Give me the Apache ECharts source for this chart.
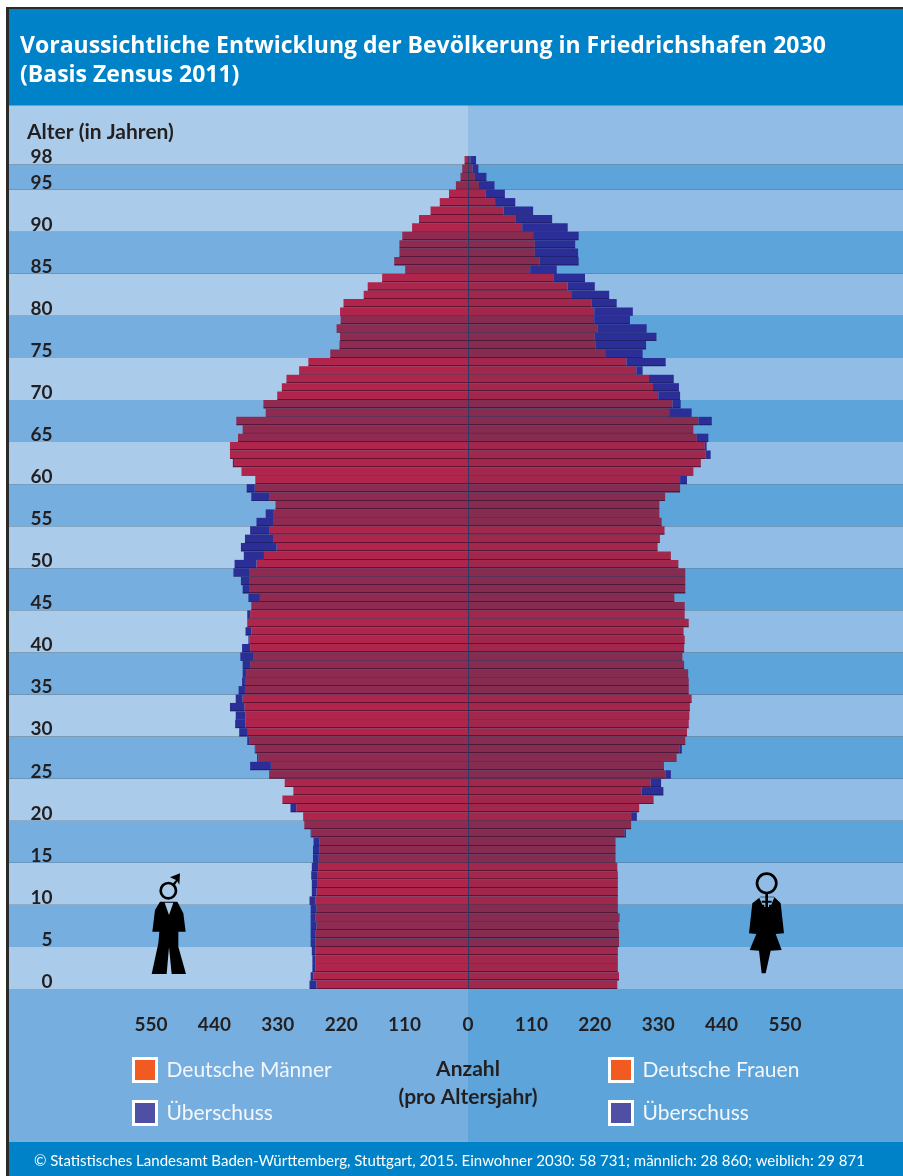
<!DOCTYPE html>
<html><head><meta charset="utf-8">
<style>html,body{margin:0;padding:0;background:#fff}#c{width:903px;height:1176px}</style>
<script src="https://cdn.jsdelivr.net/npm/echarts@6/dist/echarts.min.js"></script>
</head><body><div id="c"></div>
<script>
// ages 0..98 (index = age)
const ages = [];
for (let a = 0; a <= 98; a++) ages.push(String(a));
const ageLabels = ['0','5','10','15','20','25','30','35','40','45','50','55','60','65','70','75','80','85','90','95','98'];
const countTicks = [110,220,330,440,550];

const menGerman = [263,268,265,265,265,265,265,263,265,263,
 265,263,262,262,260,259,258,258,272,284,
 286,298,322,303,318,345,342,364,369,379,
 382,386,386,388,391,387,387,385,378,373,
 378,379,376,382,378,376,361,380,380,380,
 367,354,332,337,344,337,337,334,344,370,
 369,393,406,413,413,399,391,402,351,355,
 331,323,315,293,277,239,223,222,228,221,
 222,216,181,174,149,109,128,119,119,114,
 97,85,65,49,33,21,13,10,6];
const menSurplus = [12,5,5,5,6,8,8,10,8,10,
 10,8,9,10,11,10,11,10,1,0,
 0,10,0,0,0,0,36,2,1,4,
 15,18,17,25,12,11,5,6,13,22,
 14,2,10,1,5,0,20,11,14,27,
 38,35,62,50,34,30,14,0,32,14,
 0,0,2,0,0,0,0,0,0,0,
 0,0,0,0,0,0,0,0,0,0,
 0,0,0,0,0,0,0,0,0,0,
 0,0,0,0,0,0,0,0,0];
const womenGerman = [259,262,260,260,260,262,262,261,263,260,
 260,260,260,260,259,256,256,256,272,283,
 283,297,322,301,317,343,340,362,367,377,
 380,383,384,385,388,383,383,382,375,372,
 375,376,374,383,376,376,358,377,377,377,
 365,352,329,333,341,336,332,332,342,368,
 368,391,404,412,411,397,391,400,349,355,
 330,321,314,292,275,238,221,220,225,219,
 219,214,179,173,148,108,124,116,116,113,
 94,82,62,47,31,19,12,8,4];
const womenSurplus = [0,0,0,0,0,0,0,0,0,0,
 0,0,0,0,0,0,0,0,2,0,
 10,0,0,38,18,9,0,0,4,0,
 0,0,0,0,0,0,0,0,0,0,
 0,0,0,0,0,0,0,0,0,0,
 0,0,0,0,0,0,0,0,0,0,
 12,0,0,9,3,20,0,23,39,14,
 38,45,43,11,68,65,88,107,85,62,
 67,44,66,47,55,46,68,75,70,79,
 79,64,51,35,33,27,20,10,10];
// background stripes, in age units: [from, to, dark]
const bands = [[-18.2,0,1],[0,5,0],[5,10,1],[10,15,0],[15,20,1],[20,25,0],[25,30,1],[30,35,0],[35,40,1],[40,45,0],
 [45,50,1],[50,55,0],[55,60,1],[60,65,0],[65,70,1],[70,75,0],[75,80,1],[80,85,0],[85,90,1],[90,95,0],[95,98,1],[98,105,0]];

const FONT = 'Lato';
const INK = '#231f20';
const isDark = a => a < 95 ? Math.floor(a/5)%2===1 : a < 98;
const clean = (arr, sign) => arr.map(v => v === 0 ? null : sign*v);
const lined = (main, edge) => new echarts.graphic.LinearGradient(0,0,0,1,[
  {offset:0,color:main},{offset:0.86,color:main},{offset:0.87,color:edge},{offset:1,color:edge}]);

const chart = echarts.init(document.getElementById('c'), null, {renderer:'canvas'});

function poly(points, fill, z){ return {type:'polygon', z:z||50, shape:{points}, style:{fill}}; }

const manIcon = {type:'group', x:120, y:860, scaleX:1/3, scaleY:1/3, children:[
  {type:'ring', z:50, shape:{cx:145,cy:92,r:27,r0:19}, style:{fill:'#000'}},
  poly([[157,72],[168,60],[150,52],[180,40],[178,74],[172,64],[163,78]],'#000'),
  poly([[120,125],[172,125],[190,160],[197,215],[175,215],[175,260],[198,342],[155,342],[147,262],[140,342],[95,342],[115,250],[118,215],[97,215],[105,150]],'#000'),
  poly([[134,128],[160,128],[147,165]],'#a9cbe9',51)
]};
const womanIcon = {type:'group', x:719, y:860, scaleX:1/3, scaleY:1/3, children:[
  {type:'ring', z:50, shape:{cx:143,cy:70,r:33,r0:25}, style:{fill:'#000'}},
  poly([[100,130],[125,110],[165,110],[185,130],[195,220],[170,222],[188,270],[155,272],[140,340],[128,340],[120,272],[92,270],[112,222],[90,220]],'#000'),
  poly([[120,112],[166,112],[157,134],[150,134],[150,141],[136,141],[136,134],[130,134]],'#8fbce5',51),
  poly([[139,100],[147,100],[147,122],[158,122],[158,128],[147,128],[147,142],[139,142],[139,128],[128,128],[128,122],[139,122]],'#000',52)
]};

chart.setOption({
  animation:false,
  backgroundColor:'#ffffff',
  title:{
    text:'Voraussichtliche Entwicklung der Bevölkerung in Friedrichshafen 2030\n(Basis Zensus 2011)',
    left:15, top:27,
    textStyle:{fontFamily:'Open Sans', fontWeight:'bold', fontSize:23, lineHeight:29, color:'#fff'},
    z:60
  },
  grid:{left:87.6, width:760.8, top:156, height:833, containLabel:false},
  xAxis:{
    type:'value', min:-660, max:660, interval:110,
    axisLine:{show:false}, axisTick:{show:false}, splitLine:{show:false},
    axisLabel:{
      margin:26, fontFamily:FONT, fontWeight:'bold', fontSize:19, color:INK,
      formatter:v => (v===0 || countTicks.includes(Math.abs(v))) ? String(Math.abs(v)) : ''
    },
    name:'Anzahl\n(pro Altersjahr)', nameLocation:'middle', nameGap:66,
    nameTextStyle:{fontFamily:FONT, fontWeight:'bold', fontSize:21, lineHeight:28, color:INK}
  },
  yAxis:{
    type:'category', data:ages, boundaryGap:true,
    axisLine:{show:false}, axisTick:{show:false}, splitLine:{show:false},
    axisLabel:{
      margin:35, fontFamily:FONT, fontWeight:'bold', fontSize:19, color:INK,
      verticalAlign:'bottom', lineHeight:6,
      interval:(i,v)=>ageLabels.includes(v), hideOverlap:false
    }
  },
  legend:[
    {left:132, top:1057, padding:0, orient:'vertical', itemWidth:23, itemHeight:23, itemGap:17, selectedMode:false, icon:'rect',
     textStyle:{fontFamily:FONT, fontSize:21, color:'#f3f7fb', padding:[0,0,0,5]},
     data:[{name:'Deutsche Männer', itemStyle:{color:'#F25A22',borderColor:'#fff',borderWidth:3}},
           {name:'Überschuss', itemStyle:{color:'#4F4FA3',borderColor:'#fff',borderWidth:3}}]},
    {left:608, top:1057, padding:0, orient:'vertical', itemWidth:23, itemHeight:23, itemGap:17, selectedMode:false, icon:'rect',
     textStyle:{fontFamily:FONT, fontSize:21, color:'#f3f7fb', padding:[0,0,0,5]},
     data:[{name:'Deutsche Frauen', itemStyle:{color:'#F25A22',borderColor:'#fff',borderWidth:3}},
           {name:'Überschuss', itemStyle:{color:'#4F4FA3',borderColor:'#fff',borderWidth:3}}]}
  ],
  graphic:[
    {type:'rect', z:-10, shape:{x:6,y:7,width:897,height:1169}, style:{fill:'#2b2a2a'}},
    {type:'rect', z:-9, shape:{x:9,y:9,width:894,height:98}, style:{fill:'#0082C8'}},
    {type:'rect', z:40, shape:{x:9,y:1142,width:894,height:34}, style:{fill:'#0082C8'}},
    {type:'text', z:41, x:34, y:1154, style:{text:'© Statistisches Landesamt Baden-Württemberg, Stuttgart, 2015. Einwohner 2030: 58 731; männlich: 28 860; weiblich: 29 871', font:'15px Lato', fill:'#fff'}},
    {type:'text', z:41, x:27, y:122, style:{text:'Alter (in Jahren)', font:'bold 21px Lato', fill:INK}},
    manIcon, womanIcon
  ],
  series:[
    {type:'custom', name:'bands', silent:true, z:0, clip:false, legendHoverLink:false,
     data:bands.map(b=>[0,0,b[0],b[1],b[2]]),
     renderItem:(p,api)=>{
       const c = api.coord([0,0]), h = api.size([0,1])[1];
       const y0 = c[1]+h/2, top = y0-api.value(3)*h, bot = y0-api.value(2)*h, dark = api.value(4);
       return {type:'group', children:[
         {type:'rect', shape:{x:9,y:top,width:c[0]-9,height:bot-top}, style:{fill:dark?'#76AFDF':'#AACCEA'}},
         {type:'rect', shape:{x:c[0],y:top,width:903-c[0],height:bot-top}, style:{fill:dark?'#5CA4DA':'#90BCE5'}}
       ]};
     }},
    {type:'bar', name:'Deutsche Männer', stack:'p', barWidth:'100%', z:2, data:clean(menGerman,-1),
     itemStyle:{borderWidth:0, color:p=>isDark(p.dataIndex)?lined('#8F2A50','#54163a'):lined('#B0254B','#651334')}},
    {type:'bar', name:'Überschuss', stack:'p', barWidth:'100%', z:2, data:clean(menSurplus,-1),
     itemStyle:{borderWidth:0, color:lined('#2B2E96','#1f2270')}},
    {type:'bar', name:'Deutsche Frauen', stack:'p', barWidth:'100%', z:2, data:clean(womenGerman,1),
     itemStyle:{borderWidth:0, color:p=>isDark(p.dataIndex)?lined('#852C50','#501838'):lined('#A1284C','#5e1434')},
     markLine:{silent:true, symbol:'none', label:{show:false}, z:5,
       lineStyle:{color:'#2d3a63', width:1, type:'solid'}, data:[{xAxis:0}]}},
    {type:'bar', name:'Überschuss', stack:'p', barWidth:'100%', z:2, data:clean(womenSurplus,1),
     itemStyle:{borderWidth:0, color:lined('#2B2E96','#1f2270')}}
  ]
});
</script></body></html>
